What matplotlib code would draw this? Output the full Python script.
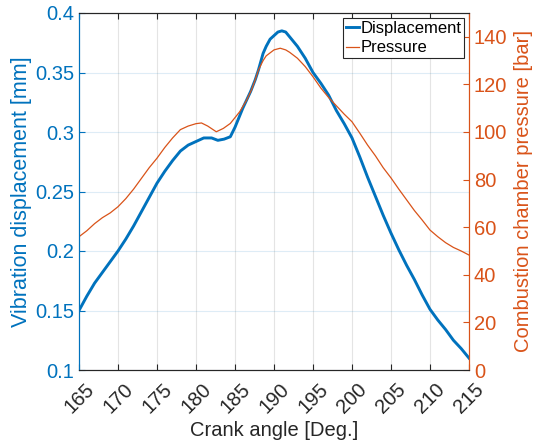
import matplotlib
matplotlib.use("Agg")
import matplotlib.pyplot as plt
from matplotlib.ticker import FixedLocator

plt.rcParams['font.family'] = ['Liberation Sans', 'DejaVu Sans']

# Data
disp_angle = [165, 166, 167, 168, 169, 170, 171, 172, 173, 174, 175, 176, 177, 178, 179,
              180, 181, 182, 182.8, 183.6, 184.4, 185, 186, 187, 187.6, 188, 188.6, 189,
              189.5, 190, 190.5, 191, 191.5, 192, 193, 194, 195, 196, 197, 198, 199, 200,
              201, 202, 203, 204, 205, 206, 207, 208, 209, 210, 211, 212, 213, 214, 215]
displacement = [0.150, 0.162, 0.173, 0.182, 0.191, 0.200, 0.210, 0.221, 0.233, 0.245, 0.257,
                0.267, 0.276, 0.284, 0.289, 0.292, 0.295, 0.295, 0.293, 0.294, 0.296, 0.304,
                0.320, 0.334, 0.344, 0.352, 0.366, 0.372, 0.378, 0.381, 0.384, 0.385, 0.384,
                0.380, 0.372, 0.362, 0.350, 0.341, 0.331, 0.318, 0.307, 0.295, 0.279, 0.262,
                0.246, 0.230, 0.215, 0.201, 0.188, 0.176, 0.163, 0.151, 0.142, 0.134, 0.125,
                0.118, 0.110]

pres_angle = [165, 166, 167, 168, 169, 170, 171, 172, 173, 174, 175, 176, 177, 178, 179,
              180, 180.7, 181.5, 182.6, 183.5, 184.4, 185.6, 186.5, 187.1, 187.6, 188,
              188.6, 189, 190, 190.8, 191.5, 192, 193, 194, 195, 196, 197, 198, 199, 200,
              201, 202, 203, 204, 205, 206, 207, 208, 209, 210, 211, 212, 213, 214, 215]
pressure = [56, 58.5, 61.5, 64, 66, 68.6, 72, 76, 80.5, 85, 89, 93.5, 97.5, 101, 102.5,
            103.5, 103.8, 102.5, 100.1, 101.5, 103.6, 108.5, 113.4, 117.6, 122, 126,
            130, 132, 134.5, 135.2, 134.5, 133.5, 131, 127.5, 123.2, 118.5, 114.5, 111,
            107.5, 104.3, 99.5, 94.5, 90, 85, 80.7, 76, 71.5, 67, 63, 58.8, 56, 53.5,
            51.5, 50, 48.3]

x_ticks = [165, 170, 175, 180, 185, 190, 195, 200, 205, 210, 215]
y1_ticks = [0.1, 0.15, 0.2, 0.25, 0.3, 0.35, 0.4]
y1_labels = ['0.1', '0.15', '0.2', '0.25', '0.3', '0.35', '0.4']
y2_ticks = [0, 20, 40, 60, 80, 100, 120, 140]

blue = '#0072BD'
orange = '#D95319'
dark = '#262626'

fig = plt.figure(figsize=(5.43, 4.47), dpi=100)
ax1 = fig.add_axes([79/543, 1-370/447, (469-79)/543, (370-13)/447])
ax2 = ax1.twinx()

l1, = ax1.plot(disp_angle, displacement, color=blue, lw=2.1, label='Displacement')
l2, = ax2.plot(pres_angle, pressure, color=orange, lw=0.9, label='Pressure')

ax1.set_xlim(165, 215)
ax1.set_ylim(0.1, 0.4)
ax2.set_ylim(0, 150)

ax1.xaxis.set_major_locator(FixedLocator(x_ticks))
ax1.set_xticklabels([str(v) for v in x_ticks], rotation=45, ha='center', va='top')
ax1.set_yticks(y1_ticks)
ax1.set_yticklabels(y1_labels)
ax2.set_yticks(y2_ticks)

ax1.grid(True, axis='x', color='#262626', alpha=0.12, lw=0.8)
ax1.grid(True, axis='y', color=blue, alpha=0.13, lw=0.8)
ax1.set_axisbelow(True)

ax1.tick_params(axis='x', labelsize=14.5, colors=dark, direction='in', top=True,
                length=4, pad=7)
ax1.tick_params(axis='y', labelsize=14.5, colors=blue, direction='in', length=4)
ax2.tick_params(axis='y', labelsize=14.5, colors=orange, direction='in', length=4)

ax1.set_xlabel('Crank angle [Deg.]', fontsize=14.5, color=dark, labelpad=3)
ax1.set_ylabel('Vibration displacement [mm]', fontsize=15.5, color=blue, labelpad=2)
ax2.set_ylabel('Combustion chamber pressure [bar]', fontsize=14.5, color=orange, labelpad=5)

for ax in (ax1, ax2):
    ax.spines['left'].set_color(blue)
    ax.spines['right'].set_color(orange)
    ax.spines['top'].set_color(dark)
    ax.spines['bottom'].set_color(dark)
    for s in ax.spines.values():
        s.set_linewidth(0.8)

leg = ax2.legend(handles=[l1, l2], loc='upper right', fontsize=12, frameon=True,
                 fancybox=False, edgecolor=dark, framealpha=1, borderpad=0.15,
                 handlelength=0.8, handletextpad=0.1, labelspacing=0.3,
                 borderaxespad=0.3)
leg.get_frame().set_linewidth(0.8)

fig.savefig('out.png', dpi=100)
